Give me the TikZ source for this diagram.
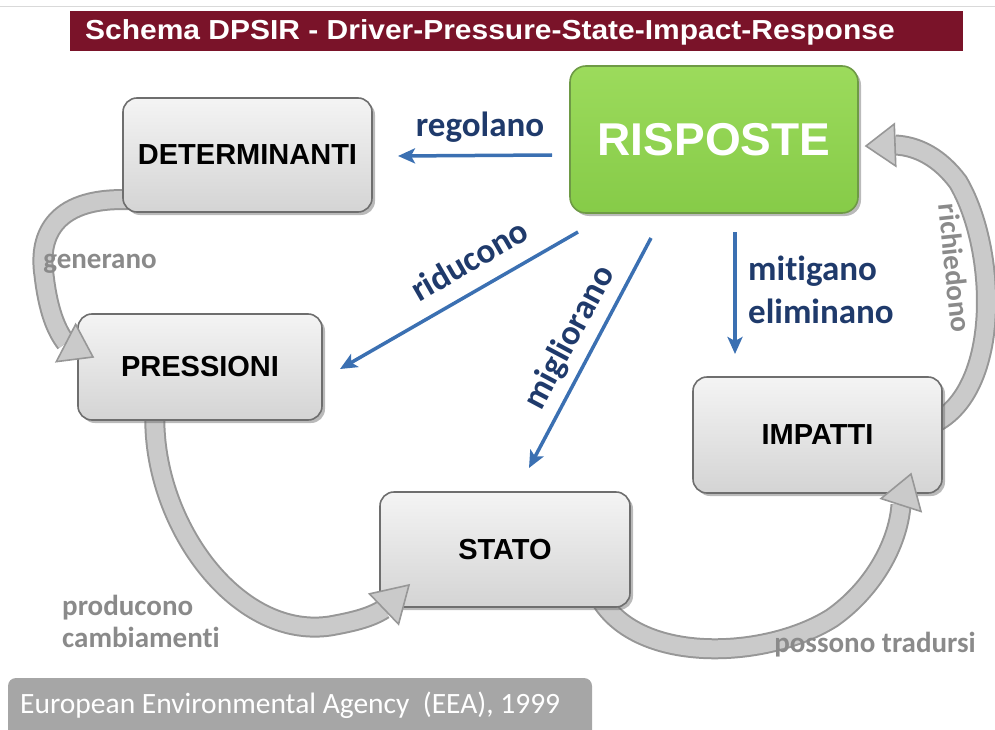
\documentclass[tikz,border=0pt]{standalone}
\usepackage{fontspec}
\setmainfont{Liberation Sans}
\newfontfamily\calfont[Ligatures=NoCommon]{Carlito}
\usetikzlibrary{arrows.meta,shadows,calc}
\definecolor{titlered}{HTML}{7A1329}
\definecolor{boxfillA}{HTML}{F4F4F4}
\definecolor{boxfillB}{HTML}{D4D4D4}
\definecolor{boxline}{HTML}{6E6E6E}
\definecolor{greenA}{HTML}{9CDB5C}
\definecolor{greenB}{HTML}{86CB48}
\definecolor{greenline}{HTML}{6E9A45}
\definecolor{bluearr}{HTML}{3B70B2}
\definecolor{navy}{HTML}{1F3A6B}
\definecolor{lbl}{HTML}{8A8A8A}
\definecolor{cycfill}{HTML}{CACACA}
\definecolor{cycline}{HTML}{979797}
\definecolor{srcbox}{HTML}{A6A6A6}
\tikzset{
  boxsty/.style={draw=boxline, line width=1.6pt, rounded corners=14pt,
    top color=boxfillA, bottom color=boxfillB,
    drop shadow={shadow xshift=3pt,shadow yshift=-3pt,opacity=.45,fill=black!60},
    font=\bfseries\fontsize{29}{32}\selectfont, inner sep=0pt},
  greensty/.style={draw=greenline, line width=1.6pt, rounded corners=16pt,
    top color=greenA, bottom color=greenB,
    drop shadow={shadow xshift=3pt,shadow yshift=-3pt,opacity=.45,fill=black!60},
    font=\bfseries\fontsize{46}{50}\selectfont, text=white, inner sep=0pt},
  bluearrow/.style={line width=3.5pt, bluearr, -{Stealth[length=17pt,width=15pt,inset=4pt]}},
  bluelbl/.style={text=navy, font=\calfont\bfseries\fontsize{35}{43}\selectfont, inner sep=0pt},
  graylbl/.style={text=lbl, font=\calfont\bfseries\fontsize{29}{32}\selectfont, inner sep=0pt},
  cycshaft/.style={line width=17pt, cycfill, preaction={draw=cycline, line width=21pt}},
  cychd/.style={fill=cycfill, draw=cycline, line width=1.6pt, line join=miter}
}
\newcommand\cychead[2]{\filldraw[cychd] ($(#2)!21pt!90:(#1)$) -- (#1) -- ($(#2)!21pt!-90:(#1)$) -- cycle;}
\begin{document}
\begin{tikzpicture}[x=1pt,y=-1pt]
\useasboundingbox (0,0) rectangle (995,730);
% top line
\draw[gray!30, line width=1pt] (0,7) -- (995,7);
% title
\fill[titlered] (70,11) rectangle (963,51);
\node[anchor=west, text=white, font=\bfseries\fontsize{27.5}{30}\selectfont, inner sep=0pt] (title) at (85,32) {\scalebox{1.09}[1]{Schema DPSIR - Driver-Pressure-State-Impact-Response}};

% coordinates for cycle arrows
\coordinate (g0) at (135,200);
\coordinate (gb) at (66,343);
\coordinate (gt) at (93,357);
\coordinate (p0) at (155,410);
\coordinate (pb) at (384,609);
\coordinate (pt) at (409,585);
\coordinate (s0) at (598,595);
\coordinate (sb) at (901,505);
\coordinate (st) at (911,474);
\coordinate (i0) at (930,425);
\coordinate (ib) at (895,145);
\coordinate (it) at (866,146);

% cycle shafts
\draw[cycshaft] (g0) .. controls (55,195) and (38,235) .. (44,275) .. controls (48,310) and (56,330) .. (gb);
\draw[cycshaft] (p0) .. controls (150,520) and (235,640) .. (330,626) .. controls (352,622) and (370,618) .. (pb);
\draw[cycshaft] (s0) .. controls (635,665) and (765,660) .. (832,618) .. controls (872,590) and (898,545) .. (sb);
\draw[cycshaft] (i0) .. controls (1002,395) and (998,250) .. (958,182) .. controls (940,158) and (918,146) .. (ib);

% boxes
\node[boxsty, minimum width=249, minimum height=114] (det) at (247.5,155) {DETERMINANTI};
\node[boxsty, minimum width=244, minimum height=106] (pres) at (200,367) {PRESSIONI};
\node[boxsty, minimum width=249, minimum height=116] (imp) at (817.5,435) {IMPATTI};
\node[boxsty, minimum width=250, minimum height=115] (stato) at (505,549.5) {STATO};
\node[greensty, minimum width=288, minimum height=147] (risp) at (714,139.5) {RISPOSTE};

% cycle heads
\cychead{gt}{gb}
\cychead{pt}{pb}
\cychead{st}{sb}
\cychead{it}{ib}

% gray labels
\node[graylbl] (lgen) at (100,264) {generano};
\node[graylbl, anchor=west, align=left] (lprod) at (62,621) {producono\\cambiamenti};
\node[graylbl] (lposs) at (875,645) {possono tradursi};
\node[graylbl, rotate=-84] (lrich) at (955,268) {richiedono};

% blue arrows
\coordinate (r1a) at (552,155); \coordinate (r1b) at (398,156);
\coordinate (r2a) at (578,232); \coordinate (r2b) at (340,369);
\coordinate (r3a) at (651,238); \coordinate (r3b) at (529,468);
\coordinate (r4a) at (735,232); \coordinate (r4b) at (735,354);
\draw[bluearrow] (r1a) -- (r1b);
\draw[bluearrow] (r2a) -- (r2b);
\draw[bluearrow] (r3a) -- (r3b);
\draw[bluearrow] (r4a) -- (r4b);
\node[bluelbl] (lreg) at (480,127) {regolano};
\node[bluelbl, rotate=30] (lrid) at (469,260) {riducono};
\node[bluelbl, rotate=62] (lmig) at (570,338) {migliorano};
\node[bluelbl, anchor=west, align=left] (lmit) at (748,290) {mitigano\\eliminano};

% source box
\fill[srcbox, rounded corners=8pt] (8,678) rectangle (592,745);
\node[anchor=west, text=white, font=\calfont\fontsize{29.5}{32}\selectfont, inner sep=0pt] (src) at (20,705) {European Environmental Agency\ \ (EEA), 1999};
\end{tikzpicture}
\end{document}
